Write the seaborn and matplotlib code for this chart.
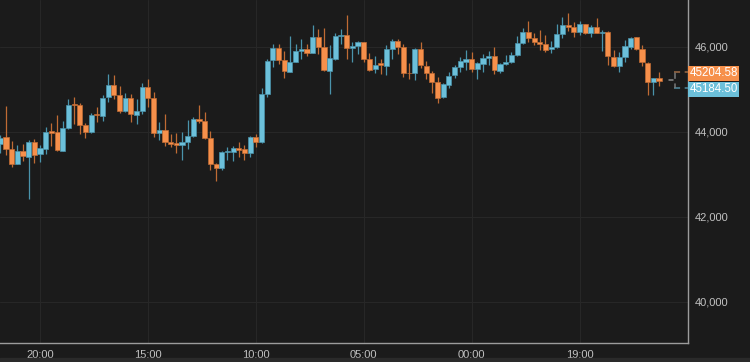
import matplotlib
matplotlib.use("Agg")
import matplotlib.pyplot as plt
import seaborn as sns
import pandas as pd
from matplotlib.transforms import IdentityTransform
from matplotlib.patches import Rectangle
from matplotlib.lines import Line2D

# ---------------- data (hourly candles) ----------------
opens = [43711, 43868, 43586, 43240, 43546, 43412, 43758, 43475, 43586, 44016,
         43986, 43553, 44080, 44652, 44628, 44158, 43986, 44416, 44376, 44824,
         45099, 44864, 44494, 44786, 44393, 44494, 45059, 44786, 43962, 44040,
         43765, 43727, 43687, 43765, 43906, 44292, 44252, 43845, 43233, 43139,
         43515, 43529, 43624, 43586, 43492, 43868, 43751, 44887, 45687, 45962,
         45687, 45412, 45647, 45899, 45939, 45859, 46221, 45986, 45435, 45711,
         46252, 46275, 45977, 46024, 46104, 45711, 45468, 45609, 45546, 45946,
         46141, 46000, 45388, 45374, 45946, 45546, 45374, 45177, 44809, 45099,
         45334, 45515, 45647, 45711, 45475, 45593, 45727, 45781, 45435, 45593,
         45633, 45805, 46080, 46353, 46212, 46118, 46064, 45946, 45986, 46292,
         46511, 46471, 46353, 46527, 46315, 46471, 46329, 46353, 45765, 45546,
         45765, 46000, 46221, 45946, 45624, 45177, 45256]
highs = [43922, 44605, 43781, 43687, 43711, 43805, 43821, 43687, 44118, 44212,
         44393, 44252, 44762, 44824, 44668, 44212, 44433, 44588, 44864, 45358,
         45334, 45075, 44904, 44887, 44762, 45153, 45233, 44941, 44235, 44416,
         43939, 43962, 44000, 44275, 44353, 44628, 44471, 44016, 43256, 43553,
         43633, 43664, 43765, 43687, 43899, 43946, 45021, 45704, 46064, 46057,
         45906, 46252, 46057, 46174, 46057, 46511, 46417, 46433, 46040, 46329,
         46417, 46746, 46104, 46141, 46118, 45845, 45781, 45711, 46040, 46181,
         46181, 46057, 45609, 45962, 46118, 45671, 45428, 45294, 45153, 45412,
         45569, 45765, 45922, 45882, 45647, 45821, 45906, 45986, 45624, 45805,
         45882, 46252, 46433, 46612, 46315, 46393, 46275, 46141, 46534, 46706,
         46786, 46588, 46612, 46534, 46511, 46668, 46393, 46377, 45922, 45882,
         46158, 46235, 46235, 46040, 45647, 45271, 45412]
lows = [43492, 43452, 43162, 43233, 43318, 42416, 43256, 43294, 43475, 43664,
        43553, 43546, 44064, 44174, 43939, 43845, 43962, 44221, 44252, 44706,
        44762, 44447, 44471, 44235, 44174, 44409, 44588, 43882, 43805, 43664,
        43647, 43492, 43334, 43586, 43882, 44198, 43821, 43099, 42847, 43099,
        43334, 43318, 43412, 43334, 43398, 43633, 43727, 44809, 45515, 45593,
        45271, 45398, 45633, 45711, 45788, 45845, 45821, 45428, 44887, 45687,
        46057, 45711, 45647, 45821, 45647, 45428, 45388, 45358, 45334, 45711,
        45828, 45294, 45233, 45217, 45492, 45233, 44904, 44668, 44786, 45035,
        45271, 45412, 45452, 45412, 45240, 45412, 45569, 45358, 45374, 45569,
        45609, 45788, 46064, 46118, 46040, 45922, 45882, 45845, 45962, 46198,
        46377, 46235, 46275, 46299, 46235, 46315, 45906, 45569, 45530, 45412,
        45647, 45939, 45922, 45546, 44864, 44864, 45075]
closes = [43859, 43586, 43240, 43546, 43428, 43758, 43452, 43609, 44000, 43976,
          43569, 44080, 44628, 44621, 44158, 43986, 44393, 44393, 44800, 45099,
          44864, 44494, 44786, 44416, 44487, 45059, 44800, 43962, 44040, 43765,
          43711, 43687, 43765, 43899, 44292, 44252, 43845, 43240, 43139, 43529,
          43553, 43609, 43569, 43492, 43868, 43765, 44887, 45671, 45962, 45687,
          45428, 45647, 45906, 45939, 45859, 46221, 45986, 45452, 45727, 46252,
          46275, 45962, 46024, 46104, 45711, 45452, 45569, 45569, 45946, 46141,
          46000, 45374, 45374, 45946, 45569, 45374, 45177, 44800, 45122, 45311,
          45515, 45664, 45711, 45475, 45609, 45741, 45781, 45452, 45593, 45633,
          45805, 46080, 46353, 46212, 46118, 46064, 45922, 46000, 46299, 46511,
          46471, 46353, 46527, 46315, 46471, 46329, 46353, 45781, 45546, 45765,
          46017, 46212, 45946, 45633, 45162, 45256, 45204.58]
tick_positions = [7, 26, 45, 64, 83, 102]
tick_labels = ["20:00", "15:00", "10:00", "05:00", "00:00", "19:00"]
y_ticks = [40000, 42000, 44000, 46000]
last_price = 45204.58
ref_price = 45184.50

# ---------------- style ----------------
BG = "#1b1b1b"
UP, DOWN = "#6cc0da", "#f6904b"
UP_W, DOWN_W = "#4a93ab", "#c06b34"
sns.set_theme(style="dark", rc={"axes.facecolor": BG, "figure.facecolor": BG,
                                "grid.color": "#272727"})
plt.rcParams["font.family"] = ["Liberation Sans", "DejaVu Sans"]

df = pd.DataFrame({"open": opens, "high": highs, "low": lows, "close": closes})
df["idx"] = range(len(df))
df["up"] = df["close"] >= df["open"]

fig = plt.figure(figsize=(7.5, 3.62), dpi=100, facecolor=BG)
ax = fig.add_axes([0, 19 / 362, 688 / 750, 343 / 362])
ax.set_facecolor(BG)

wick_cols = [UP_W if u else DOWN_W for u in df["up"]]
body_cols = [UP if u else DOWN for u in df["up"]]
ax.vlines(df["idx"], df["low"], df["high"], colors=wick_cols, lw=0.9, zorder=2)
ax.bar(df["idx"], df["close"] - df["open"], bottom=df["open"], width=0.9,
       color=body_cols, edgecolor=wick_cols, linewidth=0.5, zorder=3)

ax.set_xlim(-0.05, 121.1)
ax.set_ylim(39030, 47100)
ax.set_xticks(tick_positions)
ax.set_xticklabels(tick_labels)
ax.set_yticks(y_ticks)
ax.set_yticklabels([f"{v:,}" for v in y_ticks])
ax.yaxis.tick_right()
ax.tick_params(axis="both", length=0, labelsize=8, labelcolor="#c2c2c2")
ax.tick_params(axis="y", pad=5)
ax.tick_params(axis="x", pad=5)
ax.grid(True, color="#272727", lw=0.8)
ax.set_axisbelow(True)
for s in ["top", "left"]:
    ax.spines[s].set_visible(False)
for s in ["right", "bottom"]:
    ax.spines[s].set_visible(True)
    ax.spines[s].set_color("#9c9c9c")
    ax.spines[s].set_linewidth(1.0)

# bottom strip
fig.patches.append(Rectangle((0, 0), 1, 4 / 362, transform=fig.transFigure,
                             color="#2a2a2a", zorder=0))

# ---------------- price labels & bracket ----------------
py = ax.transData.transform((0, last_price))[1]
idt = IdentityTransform()
xr = 688
for val, col, dy in [(last_price, DOWN, 7.2), (ref_price, UP, -8.6)]:
    fig.add_artist(Rectangle((xr, py + dy - 7.5), 51, 15, transform=idt,
                             facecolor=col, edgecolor="none"))
    fig.text((xr + 25.5) / 750, (py + dy) / 362, f"{val:.2f}", color="white",
             fontsize=8.3, ha="center", va="center")

dash = (0, (4, 3))
fig.add_artist(Line2D([674, xr], [py + 8.8, py + 8.8], transform=idt,
                      color="#a06d47", lw=1.1, ls=dash))
fig.add_artist(Line2D([674, xr], [py - 7.8, py - 7.8], transform=idt,
                      color="#508aa0", lw=1.1, ls=dash))
fig.add_artist(Line2D([674.5, 674.5], [py - 7.8, py + 8.8], transform=idt,
                      color="#7a7a7a", lw=1.1, ls=(1, (4, 3))))
fig.add_artist(Line2D([669, 673], [py + 1, py + 1], transform=idt,
                      color="#8a8a8a", lw=1.1))

fig.savefig("out.png", dpi=100, facecolor=BG)
